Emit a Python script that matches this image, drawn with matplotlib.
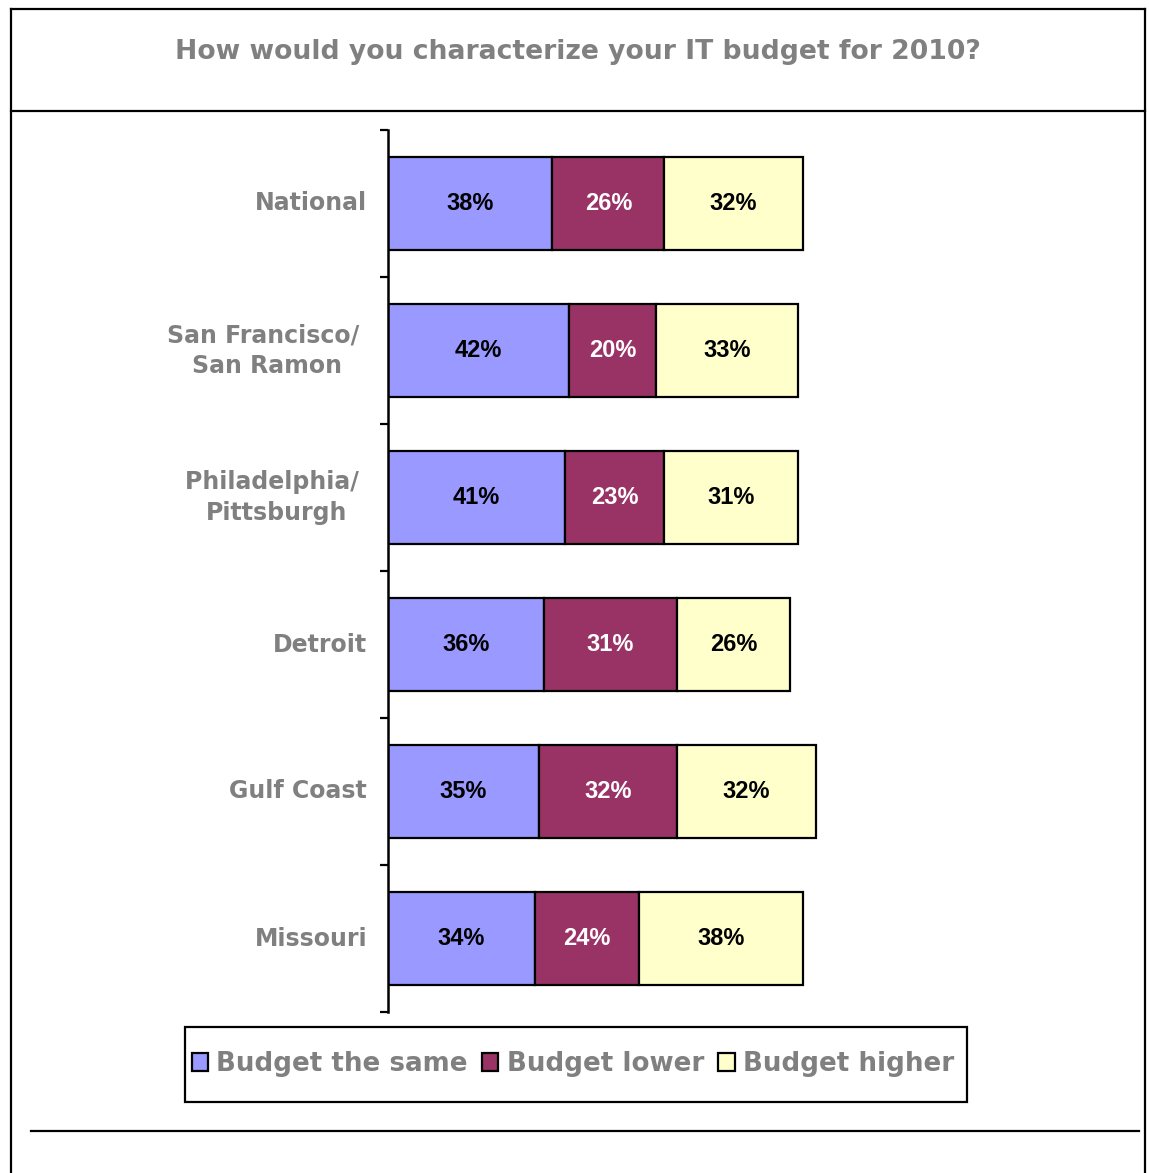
import matplotlib.pyplot as plt
from matplotlib.lines import Line2D
from matplotlib.patches import Patch, Rectangle

regions = ["National", "San Francisco/ \nSan Ramon", "Philadelphia/ \nPittsburgh",
           "Detroit", "Gulf Coast", "Missouri"]
same = [38, 42, 41, 36, 35, 34]
lower = [26, 20, 23, 31, 32, 24]
higher = [32, 33, 31, 26, 32, 38]

series = [("Budget the same", same, "#9999FF", "black"),
          ("Budget lower", lower, "#993366", "white"),
          ("Budget higher", higher, "#FFFFCC", "black")]

W, H = 1149, 1173
GRAY = "#808080"

fig = plt.figure(figsize=(W / 100, H / 100), dpi=100)

# outer frame, title separator and bottom rule (pixel coords -> figure fraction)
def hline(y, x0, x1):
    fig.add_artist(Line2D([x0 / W, x1 / W], [1 - y / H, 1 - y / H], color="black", lw=1.6))

def vline(x, y0, y1):
    fig.add_artist(Line2D([x / W, x / W], [1 - y0 / H, 1 - y1 / H], color="black", lw=1.6))

hline(9, 11, 1145)
hline(111, 11, 1145)
hline(1131, 31, 1139)
vline(11, 9, H)
vline(1145, 9, H)

fig.text(578 / W, 1 - 52 / H, "How would you characterize your IT budget for 2010?",
         ha="center", va="center", fontsize=19.2, fontweight="bold", color=GRAY,
         family="DejaVu Sans")

ax = fig.add_axes([388 / W, 1 - 1012 / H, 432 / W, 882 / H])

ypos = list(range(len(regions)))
left = [0] * len(regions)
for name, vals, color, txtcolor in series:
    bars = ax.barh(ypos, vals, left=left, height=0.626, color=color,
                   edgecolor="black", linewidth=1.6, label=name)
    for b, v in zip(bars, vals):
        ax.text(b.get_x() + b.get_width() / 2, b.get_y() + b.get_height() / 2,
                f"{v}%", ha="center", va="center", fontsize=17,
                fontweight="bold", color=txtcolor, family="Liberation Sans")
    left = [l + v for l, v in zip(left, vals)]

ax.set_xlim(0, 100)
ax.set_ylim(len(regions) - 0.5, -0.5)

# boundary ticks on the axis, category names as minor tick labels
ax.set_yticks([i - 0.5 for i in range(len(regions) + 1)])
ax.set_yticklabels([])
ax.set_yticks(ypos, regions, minor=True)
ax.tick_params(axis="y", which="major", direction="out", length=6, width=1.6)
ax.tick_params(axis="y", which="minor", length=0, pad=15)
for lab in ax.get_yticklabels(minor=True):
    lab.set_fontsize(17)
    lab.set_fontweight("bold")
    lab.set_color(GRAY)
    lab.set_family("DejaVu Sans")
    lab.set_multialignment("center")
    lab.set_linespacing(1.36)
    lab.set_verticalalignment("center")

ax.set_xticks([])
for s in ["top", "right", "bottom"]:
    ax.spines[s].set_visible(False)
ax.spines["left"].set_linewidth(1.8)

# legend box drawn separately so its size is fixed
fig.add_artist(Rectangle((185 / W, 1 - 1102 / H), (967 - 185) / W, 75 / H,
                         transform=fig.transFigure, facecolor="white",
                         edgecolor="black", linewidth=1.6))
handles = [Patch(facecolor=c, edgecolor="black", linewidth=1.6, label=n)
           for n, _, c, _ in series]
leg = fig.legend(handles=handles, loc="center", bbox_to_anchor=(573 / W, 1 - 1064 / H),
                 ncol=3, frameon=False, handlelength=0.62,
                 handleheight=0.65, handletextpad=0.32, columnspacing=0.55,
                 borderpad=0.2, prop={"family": "DejaVu Sans", "weight": "bold", "size": 18.8})
for t in leg.get_texts():
    t.set_color(GRAY)

fig.savefig("out.png", dpi=100)
